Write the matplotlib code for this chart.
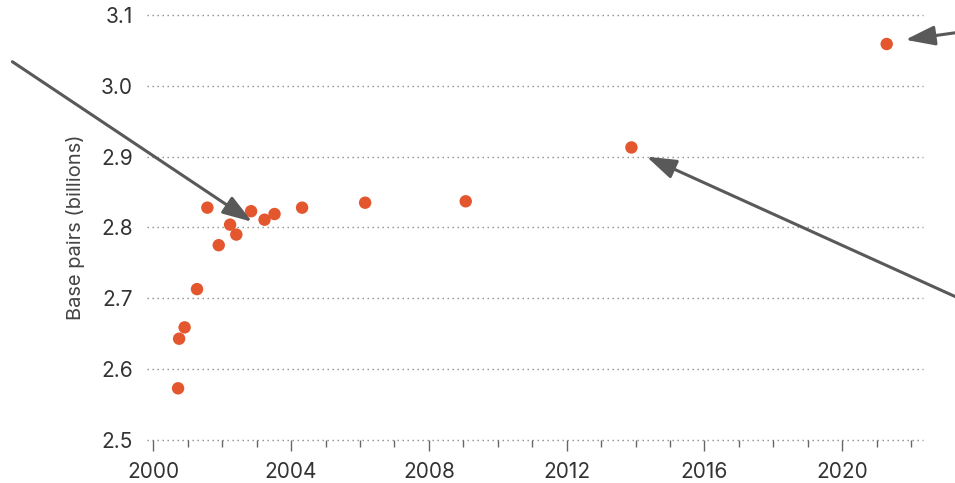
import numpy as np
import matplotlib.pyplot as plt
from matplotlib.ticker import MultipleLocator

# data (year, billions of base pairs)
years = [2000.72, 2000.75, 2000.91, 2001.27, 2001.57, 2001.90, 2002.23, 2002.41,
         2002.84, 2003.23, 2003.52, 2004.32, 2006.15, 2009.07, 2013.88, 2021.29]
base_pairs = [2.573, 2.643, 2.659, 2.713, 2.828, 2.775, 2.804, 2.790,
              2.823, 2.811, 2.819, 2.828, 2.835, 2.837, 2.913, 3.059]

y_ticks = [2.5, 2.6, 2.7, 2.8, 2.9, 3.0, 3.1]
x_ticks = [2000, 2004, 2008, 2012, 2016, 2020]

# arrows: (tip, tail) in data units
arrows = [
    ((2002.87, 2.808), (1995.91, 3.034)),
    ((2021.83, 3.065), (2023.30, 3.075)),
    ((2014.32, 2.900), (2023.30, 2.702)),
]

# colors
POINT_COLOR = "#e4572e"
ARROW_COLOR = "#595959"
GRID_COLOR = "#8a8a8a"
TEXT_COLOR = "#333333"

plt.rcParams["font.family"] = ["Inter", "DejaVu Sans"]

fig = plt.figure(figsize=(9.55, 4.83), dpi=100)
ax = fig.add_axes([0.154, 0.089, 0.812, 0.880])

ax.set_xlim(1999.82, 2022.33)
ax.set_ylim(2.5, 3.1)

# dotted horizontal grid
for yv in y_ticks:
    ax.axhline(yv, color=GRID_COLOR, lw=1.0, linestyle=(0, (1, 2.6)), zorder=1, clip_on=False)

ax.scatter(years, base_pairs, s=80, color=POINT_COLOR, edgecolor="none", zorder=3)

for tip, tail in arrows:
    ax.annotate("", xy=tip, xytext=tail, xycoords="data", textcoords="data",
                annotation_clip=False,
                arrowprops=dict(arrowstyle="-|>,head_length=0.9,head_width=0.3",
                                mutation_scale=20, lw=2.2, color=ARROW_COLOR,
                                shrinkA=0, shrinkB=0))

for side in ["top", "right", "left", "bottom"]:
    ax.spines[side].set_visible(False)

ax.set_yticks(y_ticks)
ax.set_yticklabels([f"{v:.1f}" for v in y_ticks])
ax.tick_params(axis="y", length=0, pad=10, labelsize=15, labelcolor=TEXT_COLOR)

ax.set_xticks(x_ticks)
ax.set_xticklabels([str(v) for v in x_ticks])
ax.xaxis.set_minor_locator(MultipleLocator(1))
ax.tick_params(axis="x", which="major", length=8, width=1, color="#666666",
               pad=8, labelsize=15, labelcolor=TEXT_COLOR)
ax.tick_params(axis="x", which="minor", length=5, width=1, color="#666666")

ax.set_ylabel("Base pairs (billions)", fontsize=14.5, color="#444444", labelpad=12)

fig.savefig("out.png", dpi=100)
